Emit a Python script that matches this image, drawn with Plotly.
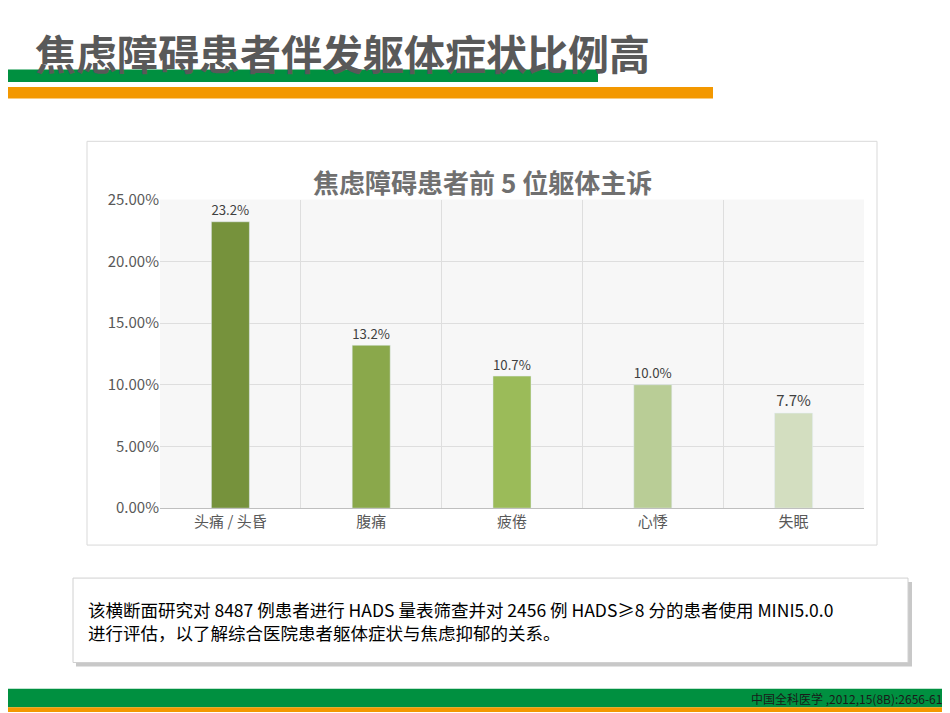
import plotly.graph_objects as go

# data
categories = ["头痛 / 头昏", "腹痛", "疲倦", "心悸", "失眠"]
values = [0.232, 0.132, 0.107, 0.100, 0.077]
labels = ["23.2%", "13.2%", "10.7%", "10.0%", "7.7%"]
colors = ["#76923c", "#8aa84b", "#9bbb59", "#b9cd96", "#d3dec0"]

W, H = 950, 713
FONT = "Noto Sans CJK SC"


def px_x(v):
    return v / W


def px_y(v):
    return 1 - v / H


def rect(x0, x1, y0, y1, **kw):
    # pixel box (top-left origin) -> paper coords
    return dict(type="rect", xref="paper", yref="paper",
                x0=px_x(x0), x1=px_x(x1), y0=px_y(y1), y1=px_y(y0), **kw)


fig = go.Figure(go.Bar(
    x=categories, y=values, marker_color=colors, width=0.27,
    text=labels, textposition="outside", cliponaxis=False,
    textfont=dict(size=15, color="#404040", family=FONT),
))

shapes = [
    # header bars
    rect(0, 590, 51, 64, fillcolor="#009040", line_width=0),
    rect(0, 705, 69, 81, fillcolor="#f39800", line_width=0),
    # footer bars
    rect(0, 950, 689, 708, fillcolor="#009040", line_width=0),
    rect(0, 950, 708, 713, fillcolor="#f39800", line_width=0),
    # chart frame
    rect(79, 869, 125, 541, fillcolor="rgba(0,0,0,0)", line=dict(color="#d9d9d9", width=1), layer="below"),
    # text box shadow + box
    rect(68, 904, 579, 666, fillcolor="#c8c8c8", line_width=0, layer="below"),
    rect(65, 900, 575, 662, fillcolor="white", line=dict(color="#d0d0d0", width=1), layer="below"),
]

annotations = [
    dict(text="<b>焦虑障碍患者伴发躯体症状比例高</b>", x=px_x(25), y=px_y(33), xref="paper", yref="paper",
         xanchor="left", yanchor="middle", showarrow=False, font=dict(size=41, color="#595959", family=FONT)),
    dict(text="<b>焦虑障碍患者前 5 位躯体主诉</b>", x=px_x(474), y=px_y(166), xref="paper", yref="paper",
         xanchor="center", yanchor="middle", showarrow=False, font=dict(size=26, color="#707070", family=FONT)),
    dict(text="该横断面研究对 8487 例患者进行 HADS 量表筛查并对 2456 例 HADS≥8 分的患者使用 MINI5.0.0<br>进行评估，以了解综合医院患者躯体症状与焦虑抑郁的关系。",
         x=px_x(78), y=px_y(619), xref="paper", yref="paper", xanchor="left", yanchor="middle",
         align="left", showarrow=False, font=dict(size=17.5, color="#000000", family=FONT)),
    dict(text="中国全科医学 ,2012,15(8B):2656-61.", x=px_x(940), y=px_y(699), xref="paper", yref="paper",
         xanchor="right", yanchor="middle", showarrow=False, font=dict(size=12, color="#1a1a1a", family=FONT)),
]

fig.update_layout(
    width=W, height=H, margin=dict(l=0, r=0, t=0, b=0),
    paper_bgcolor="white", plot_bgcolor="#f7f7f7",
    showlegend=False, shapes=shapes, annotations=annotations,
    font=dict(family=FONT, color="#595959", size=15),
    xaxis=dict(domain=[px_x(152), px_x(856)], showgrid=True, gridcolor="#dedede",
               tickson="boundaries", showline=True, linecolor="#bfbfbf",
               tickfont=dict(size=15, color="#595959")),
    yaxis=dict(domain=[px_y(503), px_y(185)], range=[0, 0.25], dtick=0.05, tickformat=".2%",
               gridcolor="#dedede", zeroline=False, showline=False,
               tickfont=dict(size=15, color="#595959")),
)

fig.write_html("out.html")
